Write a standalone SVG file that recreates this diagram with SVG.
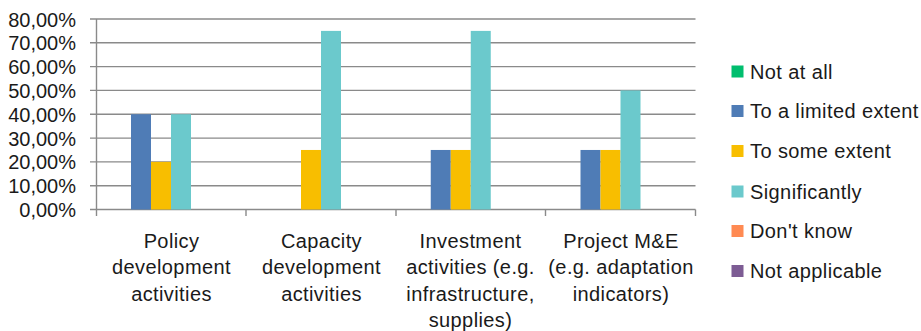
<svg xmlns="http://www.w3.org/2000/svg" width="921" height="331" viewBox="0 0 921 331">
<style>
.t{font-family:"Liberation Sans",Arial,sans-serif;font-size:20px;fill:#1a1a1a}
.y{text-anchor:end}
.c{text-anchor:middle;letter-spacing:0.4px}
.l{letter-spacing:0.4px}
.g{stroke:#8a8a8a;stroke-width:1.4;fill:none}
.blue{fill:#4F7CB6}.yel{fill:#F8BE00}.teal{fill:#6BC9CC}
.green{fill:#00BE6E}.orange{fill:#FF8A52}.purple{fill:#7D5C94}
</style>
<rect width="921" height="331" fill="#fff"/>
<g id="grid">
<path class="g" d="M90 19H695.5M90 42.8H695.5M90 66.6H695.5M90 90.4H695.5M90 114.3H695.5M90 138.1H695.5M90 161.9H695.5M90 185.7H695.5M90 209.5H695.5"/>
<path class="g" d="M96.5 19V216M246 209.5V216M396 209.5V216M545.5 209.5V216M695.5 209.5V216"/>
</g>
<g id="yaxis">
<text class="t y" x="76" y="26.5">80,00%</text>
<text class="t y" x="76" y="50.3">70,00%</text>
<text class="t y" x="76" y="74.1">60,00%</text>
<text class="t y" x="76" y="97.9">50,00%</text>
<text class="t y" x="76" y="121.8">40,00%</text>
<text class="t y" x="76" y="145.6">30,00%</text>
<text class="t y" x="76" y="169.4">20,00%</text>
<text class="t y" x="76" y="193.2">10,00%</text>
<text class="t y" x="76" y="217">0,00%</text>
</g>
<g id="bars">
<rect class="blue" x="131" y="114.25" width="20" height="95.25"/>
<rect class="yel" x="151" y="161.88" width="20" height="47.62"/>
<rect class="teal" x="171" y="114.25" width="20" height="95.25"/>
<rect class="yel" x="301" y="149.97" width="20" height="59.53"/>
<rect class="teal" x="321" y="30.9" width="20" height="178.6"/>
<rect class="blue" x="430.75" y="149.97" width="20" height="59.53"/>
<rect class="yel" x="450.75" y="149.97" width="20" height="59.53"/>
<rect class="teal" x="470.75" y="30.9" width="20" height="178.6"/>
<rect class="blue" x="580.5" y="149.97" width="20" height="59.53"/>
<rect class="yel" x="600.5" y="149.97" width="20" height="59.53"/>
<rect class="teal" x="620.5" y="90.44" width="20" height="119.06"/>
</g>
<g id="xaxis">
<text class="t c" x="171.5" y="247.7">Policy</text>
<text class="t c" x="171.5" y="274.2">development</text>
<text class="t c" x="171.5" y="300.7">activities</text>
<text class="t c" x="321.5" y="247.7">Capacity</text>
<text class="t c" x="321.5" y="274.2">development</text>
<text class="t c" x="321.5" y="300.7">activities</text>
<text class="t c" x="470.5" y="247.7">Investment</text>
<text class="t c" x="470.5" y="274.2">activities (e.g.</text>
<text class="t c" x="470.5" y="300.7">infrastructure,</text>
<text class="t c" x="470.5" y="327.2">supplies)</text>
<text class="t c" x="621" y="247.7">Project M&amp;E</text>
<text class="t c" x="621" y="274.2">(e.g. adaptation</text>
<text class="t c" x="621" y="300.7">indicators)</text>
</g>
<g id="legend">
<rect class="green" x="731.5" y="65.5" width="12" height="12"/>
<text class="t l" x="750" y="78.5">Not at all</text>
<rect class="blue" x="731.5" y="105" width="12" height="12"/>
<text class="t l" x="750" y="118">To a limited extent</text>
<rect class="yel" x="731.5" y="145" width="12" height="12"/>
<text class="t l" x="750" y="158">To some extent</text>
<rect class="teal" x="731.5" y="185.5" width="12" height="12"/>
<text class="t l" x="750" y="198.5">Significantly</text>
<rect class="orange" x="731.5" y="225" width="12" height="12"/>
<text class="t l" x="750" y="238">Don't know</text>
<rect class="purple" x="731.5" y="265" width="12" height="12"/>
<text class="t l" x="750" y="278">Not applicable</text>
</g>
</svg>
